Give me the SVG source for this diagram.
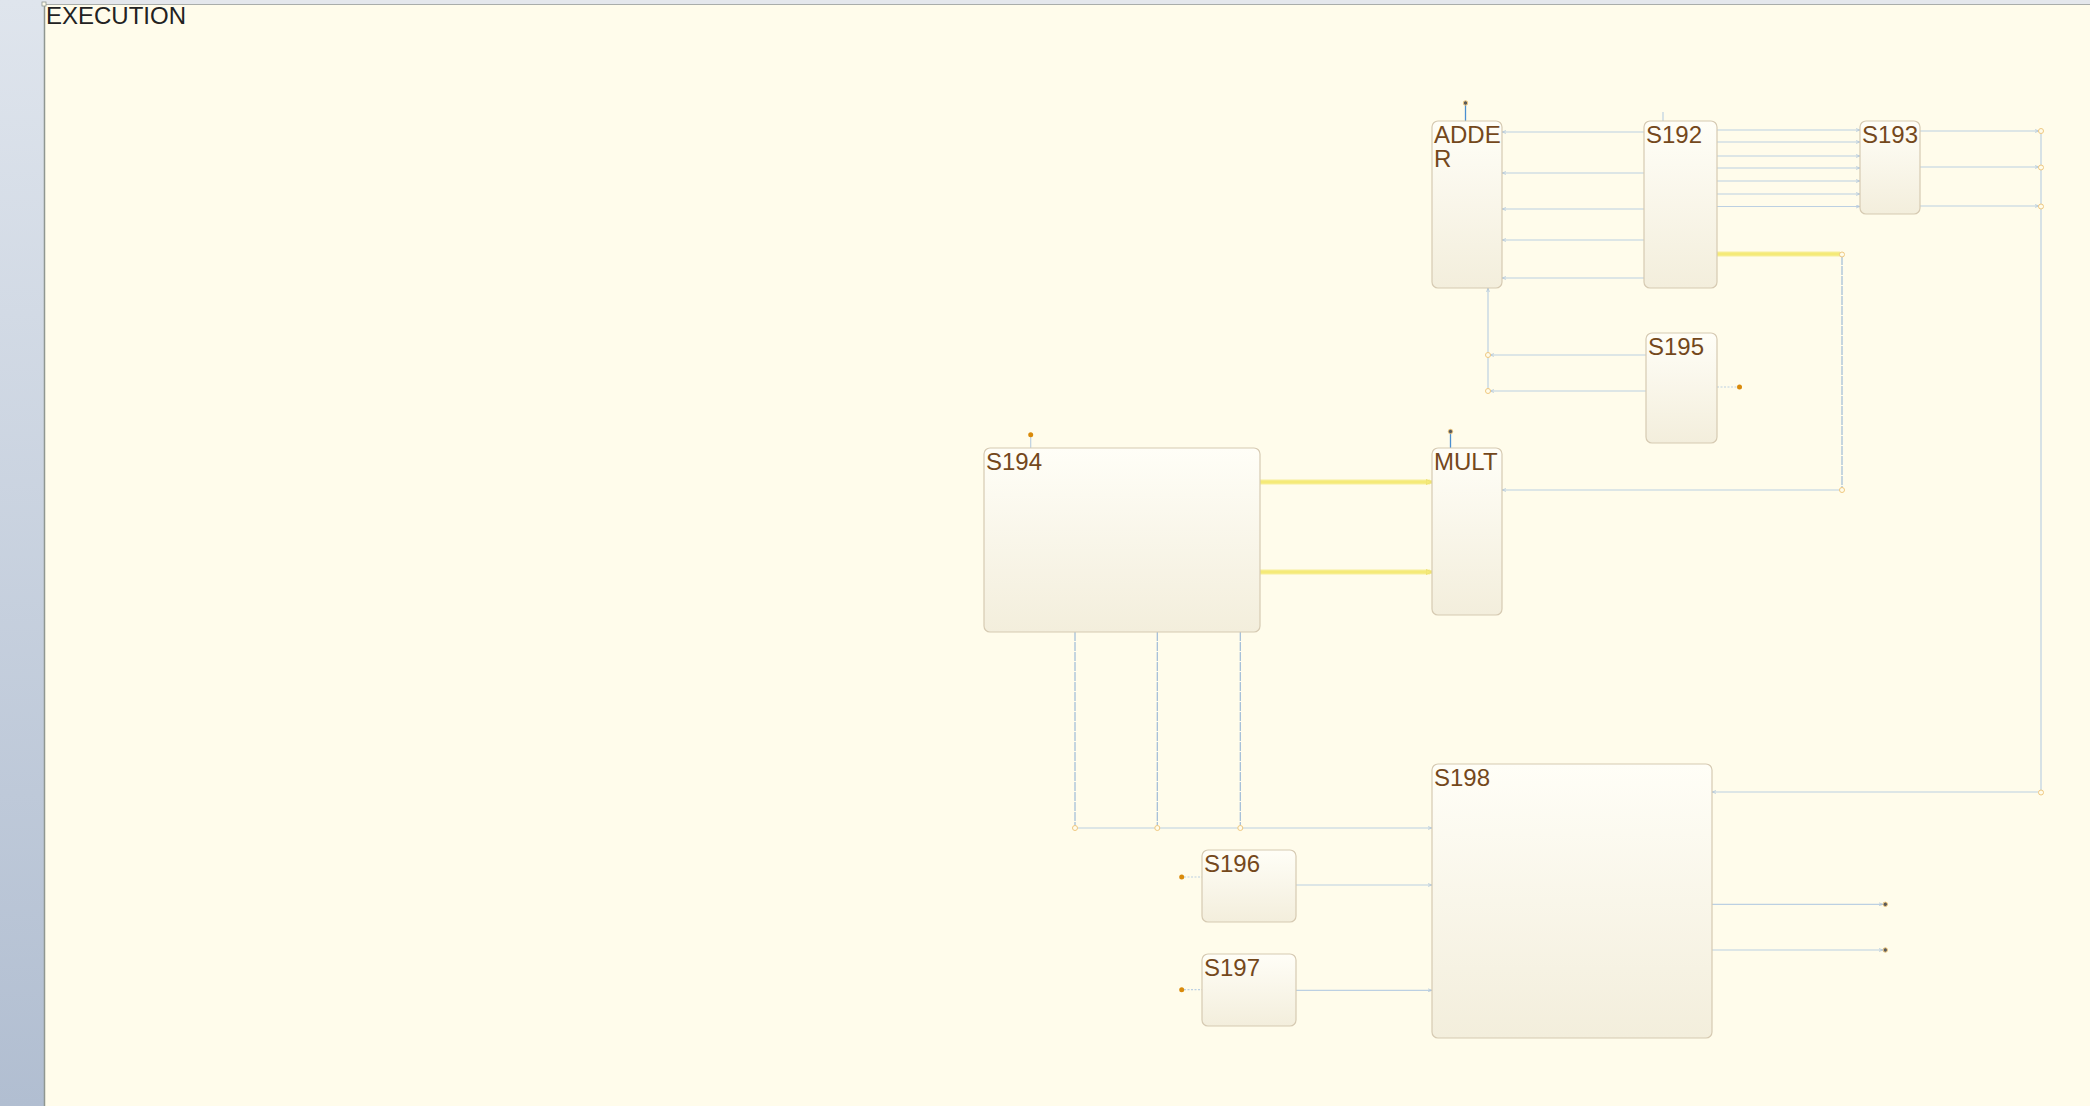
<svg xmlns="http://www.w3.org/2000/svg" width="2090" height="1106" viewBox="0 0 2090 1106">
<defs>
<linearGradient id="side" x1="0" y1="0" x2="0" y2="1">
<stop offset="0" stop-color="#dfe5ed"/>
<stop offset="1" stop-color="#b1bed1"/>
</linearGradient>
<linearGradient id="box" x1="0" y1="0" x2="0" y2="1">
<stop offset="0" stop-color="#fffef7"/>
<stop offset="1" stop-color="#f3eedc"/>
</linearGradient>
<marker id="arr" viewBox="0 0 6 6" refX="6" refY="3" markerWidth="4" markerHeight="4" orient="auto" markerUnits="userSpaceOnUse">
<path d="M0,0.8 L6,3 L0,5.2" fill="none" stroke="#a9c0d8" stroke-width="1"/>
</marker>
<marker id="arry" viewBox="0 0 6 6" refX="6" refY="3" markerWidth="6" markerHeight="6" orient="auto" markerUnits="userSpaceOnUse">
<path d="M0,0.5 L6,3 L0,5.5 Z" fill="#f5ea7a" stroke="#ece070" stroke-width="0.8"/>
</marker>
</defs>
<style>
.node rect{fill:url(#box);stroke:#d6cab2;stroke-width:1.2}
.node text{font-family:"Liberation Sans",Arial,sans-serif;font-size:24px;fill:#74481c}
.c{fill:none;stroke:#bcd0e2;stroke-width:1.2}
.cd{fill:none;stroke:#9fbbd8;stroke-width:1.2;stroke-dasharray:9 1}
.y{fill:none;stroke:#f5ea78;stroke-width:3.5}
.yg{fill:none;stroke:#f8f0a8;stroke-width:6;opacity:0.6}
.pc{fill:#fffceb;stroke:#efc880;stroke-width:1}
.po{fill:#d98a0a}
.pd{fill:#5a5a5a;stroke:#efc880;stroke-width:1}
.pb{stroke:#4a8fd0;stroke-width:1.3;fill:none}
</style>
<rect x="0" y="0" width="2090" height="1106" fill="url(#side)"/>
<rect x="44" y="0" width="2046" height="4" fill="#e4e7ec"/>
<rect x="44" y="4" width="2046" height="1102" fill="#fffceb"/>
<line x1="44.5" y1="4" x2="44.5" y2="1106" stroke="#8f9690" stroke-width="1.5"/>
<line x1="44" y1="4.5" x2="2090" y2="4.5" stroke="#a9adaa" stroke-width="1"/>
<rect x="42" y="2" width="4" height="4" fill="#fffceb" stroke="#8f9690" stroke-width="0.8"/>
<text x="46" y="24" font-family="Liberation Sans,Arial,sans-serif" font-size="24" fill="#222">EXECUTION</text>

<g id="connectors">
<line class="pb" x1="1465.5" y1="105" x2="1465.5" y2="121"/>
<circle class="pd" cx="1465.5" cy="103" r="2.2"/>
<line class="c" x1="1663" y1="112" x2="1663" y2="121"/>
<line class="c" x1="1644" y1="132" x2="1502" y2="132" marker-end="url(#arr)"/>
<line class="c" x1="1644" y1="173" x2="1502" y2="173" marker-end="url(#arr)"/>
<line class="c" x1="1644" y1="209" x2="1502" y2="209" marker-end="url(#arr)"/>
<line class="c" x1="1644" y1="240" x2="1502" y2="240" marker-end="url(#arr)"/>
<line class="c" x1="1644" y1="278" x2="1502" y2="278" marker-end="url(#arr)"/>
<line class="c" x1="1717" y1="130" x2="1860" y2="130" marker-end="url(#arr)"/>
<line class="c" x1="1717" y1="142" x2="1860" y2="142" marker-end="url(#arr)"/>
<line class="c" x1="1717" y1="156" x2="1860" y2="156" marker-end="url(#arr)"/>
<line class="c" x1="1717" y1="168" x2="1860" y2="168" marker-end="url(#arr)"/>
<line class="c" x1="1717" y1="181" x2="1860" y2="181" marker-end="url(#arr)"/>
<line class="c" x1="1717" y1="194" x2="1860" y2="194" marker-end="url(#arr)"/>
<line class="c" x1="1717" y1="206.5" x2="1860" y2="206.5" marker-end="url(#arr)"/>
<line class="yg" x1="1717" y1="254" x2="1840" y2="254"/>
<line class="y" x1="1717" y1="254" x2="1840" y2="254"/>
<line class="cd" x1="1842" y1="256" x2="1842" y2="488"/>
<line class="c" x1="1840" y1="490" x2="1502" y2="490" marker-end="url(#arr)"/>
<circle class="pc" cx="1842" cy="254.5" r="2.5"/>
<circle class="pc" cx="1842" cy="490" r="2.5"/>
<line class="c" x1="1920" y1="131" x2="2039" y2="131" marker-end="url(#arr)"/>
<line class="c" x1="1920" y1="167" x2="2039" y2="167" marker-end="url(#arr)"/>
<line class="c" x1="1920" y1="206" x2="2039" y2="206" marker-end="url(#arr)"/>
<line class="c" x1="2041" y1="131" x2="2041" y2="792"/>
<line class="c" x1="2039" y1="792" x2="1712" y2="792" marker-end="url(#arr)"/>
<circle class="pc" cx="2041" cy="131" r="2.5"/>
<circle class="pc" cx="2041" cy="167.5" r="2.5"/>
<circle class="pc" cx="2041" cy="206.5" r="2.5"/>
<circle class="pc" cx="2041" cy="792.5" r="2.5"/>
<line class="c" x1="1646" y1="355" x2="1490" y2="355" marker-end="url(#arr)"/>
<line class="c" x1="1646" y1="391" x2="1490" y2="391" marker-end="url(#arr)"/>
<line class="c" x1="1488" y1="391" x2="1488" y2="288" marker-end="url(#arr)"/>
<circle class="pc" cx="1488" cy="355" r="2.5"/>
<circle class="pc" cx="1488" cy="391" r="2.5"/>
<line class="c" x1="1717" y1="387" x2="1738" y2="387" stroke-dasharray="2 1.5"/>
<circle class="po" cx="1739.5" cy="387" r="2.5"/>
<line class="pb" x1="1450.5" y1="433" x2="1450.5" y2="448"/>
<circle class="pd" cx="1450.5" cy="431.5" r="2.2"/>
<line class="c" x1="1030.7" y1="437" x2="1030.7" y2="448" stroke="#7aa7d6"/>
<circle class="po" cx="1030.7" cy="434.7" r="2.5"/>
<line class="yg" x1="1260" y1="482" x2="1430" y2="482"/>
<line class="yg" x1="1260" y1="572" x2="1430" y2="572"/>
<line class="y" x1="1260" y1="482" x2="1432" y2="482" marker-end="url(#arry)"/>
<line class="y" x1="1260" y1="572" x2="1432" y2="572" marker-end="url(#arry)"/>
<line class="cd" x1="1075" y1="632" x2="1075" y2="826" stroke="#c9d8e6"/>
<line class="cd" x1="1157.3" y1="632" x2="1157.3" y2="826"/>
<line class="cd" x1="1240.3" y1="632" x2="1240.3" y2="826"/>
<line class="c" x1="1075" y1="828" x2="1432" y2="828" marker-end="url(#arr)"/>
<circle class="pc" cx="1075" cy="828" r="2.5"/>
<circle class="pc" cx="1157.3" cy="828" r="2.5"/>
<circle class="pc" cx="1240.3" cy="828" r="2.5"/>
<line class="c" x1="1184" y1="877" x2="1202" y2="877" stroke-dasharray="2 1.5"/>
<circle class="po" cx="1181.7" cy="877" r="2.5"/>
<line class="c" x1="1184" y1="989.7" x2="1202" y2="989.7" stroke-dasharray="2 1.5"/>
<circle class="po" cx="1181.7" cy="989.7" r="2.5"/>
<line class="c" x1="1296" y1="885" x2="1432" y2="885" marker-end="url(#arr)"/>
<line class="c" x1="1296" y1="990.3" x2="1432" y2="990.3" marker-end="url(#arr)"/>
<line class="c" x1="1712" y1="904.3" x2="1883" y2="904.3" marker-end="url(#arr)"/>
<line class="c" x1="1712" y1="950" x2="1883" y2="950" marker-end="url(#arr)"/>
<circle class="pd" cx="1885.3" cy="904.3" r="2.2"/>
<circle class="pd" cx="1885.3" cy="950" r="2.2"/>
</g>

<g id="ADDER" class="node"><rect x="1432" y="121" width="70" height="167" rx="6"/><text x="1434" y="143">ADDE</text><text x="1434" y="167">R</text></g>
<g id="S192" class="node"><rect x="1644" y="121" width="73" height="167" rx="6"/><text x="1646" y="143">S192</text></g>
<g id="S193" class="node"><rect x="1860" y="121" width="60" height="93" rx="6"/><text x="1862" y="143">S193</text></g>
<g id="S195" class="node"><rect x="1646" y="333" width="71" height="110" rx="6"/><text x="1648" y="355">S195</text></g>
<g id="S194" class="node"><rect x="984" y="448" width="276" height="184" rx="6"/><text x="986" y="470">S194</text></g>
<g id="MULT" class="node"><rect x="1432" y="448" width="70" height="167" rx="6"/><text x="1434" y="470">MULT</text></g>
<g id="S198" class="node"><rect x="1432" y="764" width="280" height="274" rx="6"/><text x="1434" y="786">S198</text></g>
<g id="S196" class="node"><rect x="1202" y="850" width="94" height="72" rx="6"/><text x="1204" y="872">S196</text></g>
<g id="S197" class="node"><rect x="1202" y="954" width="94" height="72" rx="6"/><text x="1204" y="976">S197</text></g>
</svg>
